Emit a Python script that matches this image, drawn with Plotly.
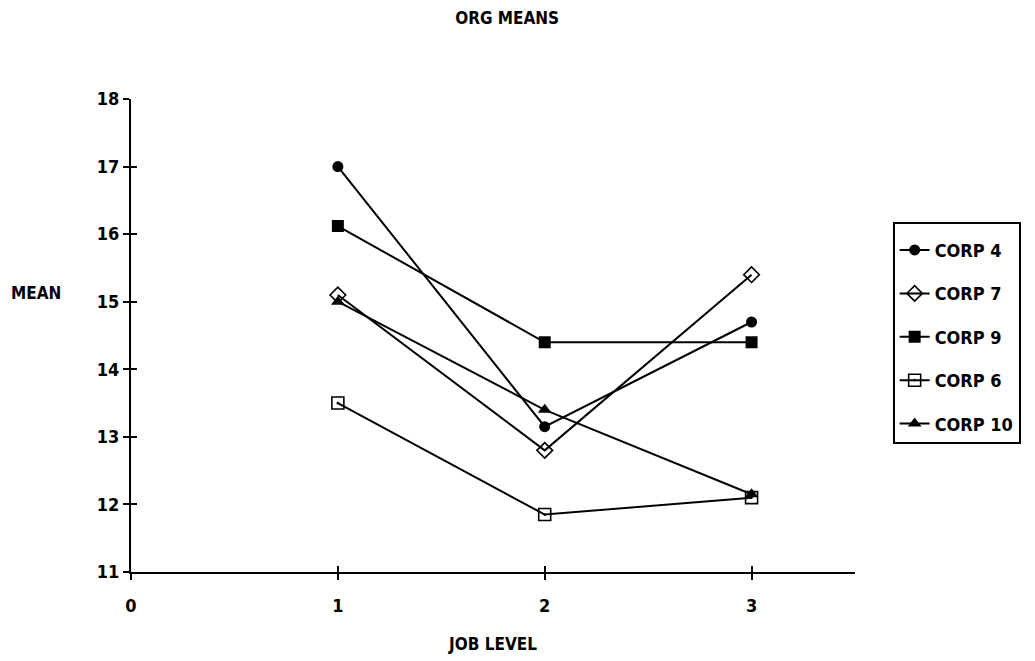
import plotly.graph_objects as go

# Job levels on the horizontal axis
job_levels = [1, 2, 3]

# Mean score per organisation at each job level
corp4 = [17.0, 13.15, 14.7]
corp7 = [15.1, 12.8, 15.4]
corp9 = [16.12, 14.4, 14.4]
corp6 = [13.5, 11.85, 12.1]
corp10 = [15.0, 13.4, 12.15]

series_names = ["CORP 4", "CORP 7", "CORP 9", "CORP 6", "CORP 10"]
series_values = [corp4, corp7, corp9, corp6, corp10]

x_ticks = [0, 1, 2, 3]
y_ticks = [11, 12, 13, 14, 15, 16, 17, 18]

FONT = "DejaVu Sans Condensed, DejaVu Sans, sans-serif"
INK = "black"

marker_styles = [
    dict(symbol="circle", size=11, color=INK),
    dict(symbol="diamond-open", size=12, color=INK, line=dict(width=1.6, color=INK)),
    dict(symbol="square", size=12, color=INK),
    dict(symbol="square-open-dot", size=12, color=INK, line=dict(width=1.6, color=INK)),
    dict(symbol="triangle-up", size=12, color=INK),
]

fig = go.Figure()
for name, vals, mk in zip(series_names, series_values, marker_styles):
    fig.add_trace(go.Scatter(
        x=job_levels, y=vals, name=name, mode="lines+markers",
        line=dict(color=INK, width=2), marker=mk, legendgroup=name,
    ))

# invisible trace on a second axis pair so tick marks cross the axis lines
fig.add_trace(go.Scatter(x=[None], y=[None], xaxis="x2", yaxis="y2",
                         showlegend=False, hoverinfo="skip"))

axis_common = dict(showgrid=False, zeroline=False, showline=True,
                   linecolor=INK, linewidth=2, tickcolor=INK, tickwidth=2,
                   ticklen=6)

fig.update_layout(
    width=1035, height=661,
    paper_bgcolor="white", plot_bgcolor="white",
    margin=dict(l=131, r=180, t=99, b=89, autoexpand=False),
    font=dict(family=FONT, size=17, color=INK, weight="bold"),
    title=dict(text="ORG MEANS", x=0.49, xanchor="center", y=0.972,
               yanchor="middle", font=dict(size=17, weight="bold")),
    xaxis=dict(range=[0, 3.5], tickvals=x_ticks, ticks="outside",
               tickfont=dict(size=18, weight="bold"), ticklabelstandoff=10,
               title=dict(text="JOB LEVEL", standoff=24,
                          font=dict(size=17, weight="bold")),
               **axis_common),
    yaxis=dict(range=[11, 18], tickvals=y_ticks, ticks="outside",
               tickfont=dict(size=18, weight="bold"), **axis_common),
    xaxis2=dict(overlaying="x", range=[0, 3.5], tickvals=x_ticks,
                ticks="inside", showticklabels=False, showgrid=False,
                zeroline=False, showline=False, tickcolor=INK, tickwidth=2,
                ticklen=6, side="bottom"),
    yaxis2=dict(overlaying="y", range=[11, 18], tickvals=y_ticks,
                ticks="inside", showticklabels=False, showgrid=False,
                zeroline=False, showline=False, tickcolor=INK, tickwidth=2,
                ticklen=6, side="left", anchor="x2"),
    legend=dict(x=1.052, xanchor="left", y=0.74, yanchor="top",
                bordercolor=INK, borderwidth=2, bgcolor="white",
                title=dict(text=" ", font=dict(size=6)),
                font=dict(size=18, weight="bold"), tracegroupgap=17,
                entrywidth=150, itemwidth=30),
    showlegend=True,
)

fig.add_annotation(text="MEAN", x=-0.094, y=0.59, xref="paper", yref="paper",
                   showarrow=False, xanchor="right", yanchor="middle",
                   font=dict(size=17, weight="bold"))

fig.write_html("out.html")
